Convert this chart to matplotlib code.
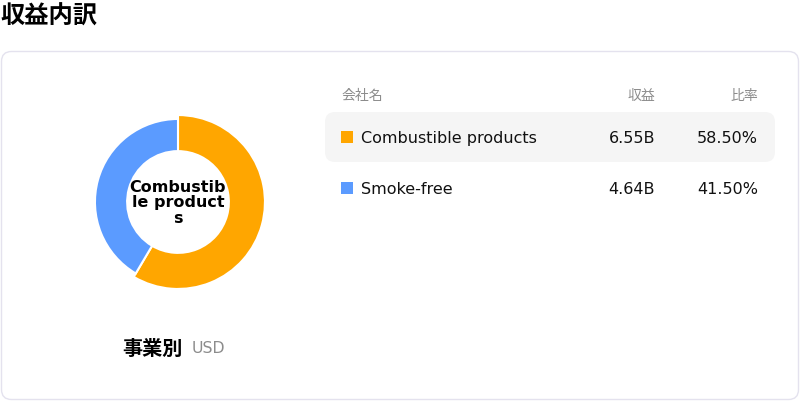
import matplotlib
matplotlib.use("Agg")
import matplotlib.pyplot as plt
from matplotlib.patches import FancyBboxPatch, Rectangle

plt.rcParams['font.family'] = ['DejaVu Sans', 'Noto Sans CJK JP']

# data
segments = ["Combustible products", "Smoke-free"]
revenue = [6.55, 4.64]          # billions USD
share = [58.50, 41.50]          # percent
colors = ['#FFA600', '#5B9BFF']
headers = ["会社名", "収益", "比率"]
title = "収益内訳"
subtitle = "事業別"
unit = "USD"

W, H = 800, 402
fig = plt.figure(figsize=(W / 100, H / 100), dpi=100)

# pixel-space background axes
bg = fig.add_axes([0, 0, 1, 1])
bg.set_xlim(0, W)
bg.set_ylim(H, 0)
bg.axis('off')

bg.text(0, 17, title, fontsize=17.5, fontweight='bold', va='center', ha='left')

card = FancyBboxPatch((1.5, 52.5), 797, 348, boxstyle="round,pad=0,rounding_size=10",
                      fc='white', ec='#e4e2ee', lw=1)
bg.add_patch(card)

# table
bg.text(341, 96, headers[0], fontsize=10, color='#8c8c8c', va='center', ha='left')
bg.text(655, 96, headers[1], fontsize=10, color='#8c8c8c', va='center', ha='right')
bg.text(758, 96, headers[2], fontsize=10, color='#8c8c8c', va='center', ha='right')

row_y = [138, 189]
hl = FancyBboxPatch((325, 113), 450, 50, boxstyle="round,pad=0,rounding_size=10",
                    fc='#f5f5f5', ec='none')
bg.add_patch(hl)
for i, name in enumerate(segments):
    y = row_y[i]
    bg.add_patch(Rectangle((341, y - 6), 12, 12, fc=colors[i], ec='none'))
    bg.text(361, y + 1, name, fontsize=11.5, va='center', ha='left', color='#111111')
    bg.text(655, y + 1, f"{revenue[i]:.2f}B", fontsize=11.5, va='center', ha='right', color='#111111')
    bg.text(758, y + 1, f"{share[i]:.2f}%", fontsize=11.5, va='center', ha='right', color='#111111')

# subtitle under the donut
bg.text(183, 349, subtitle, fontsize=14.5, fontweight='bold', va='center', ha='right')
bg.text(192, 349, unit, fontsize=11.3, color='#8c8c8c', va='center', ha='left')

# donut
cx, cy, half = 178, 203, 100
ax = fig.add_axes([(cx - half) / W, 1 - (cy + half) / H, 2 * half / W, 2 * half / H])
wedges, _ = ax.pie(share, colors=colors, startangle=90, counterclock=False,
                   radius=0.955, wedgeprops=dict(width=0.37, edgecolor='white', linewidth=1.5))
# first slice drawn slightly larger (highlighted)
wedges[0].set_radius(1.0)
wedges[0].set_width(0.415)
ax.set_xlim(-1.15, 1.15)
ax.set_ylim(-1.15, 1.15)
ax.set_aspect('equal')
ax.axis('off')
ax.text(0, 0.0, "Combustib\nle product\ns", fontsize=11.5, fontweight='bold',
        ha='center', va='center', linespacing=1.02)

fig.savefig("out.png", dpi=100)
